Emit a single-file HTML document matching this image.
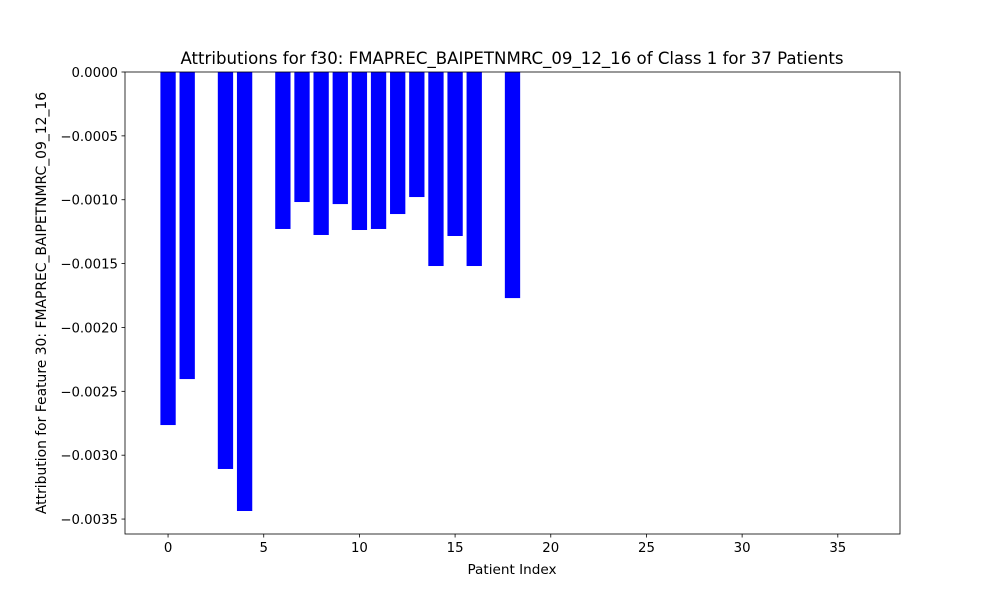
<!DOCTYPE html>
<html><head><meta charset="utf-8"><style>
body{margin:0;background:#fff;}
svg text{font-family:"DejaVu Sans","Liberation Sans",sans-serif;fill:#000;}
</style></head><body>
<svg id="chart" width="1000" height="600">
<text x="512" y="64" text-anchor="middle" font-size="16.6">Attributions for f30: FMAPREC_BAIPETNMRC_09_12_16 of Class 1 for 37 Patients</text>
<text x="512" y="574" text-anchor="middle" font-size="13.6">Patient Index</text>
<text transform="translate(46,303) rotate(-90)" text-anchor="middle" font-size="13.9">Attribution for Feature 30: FMAPREC_BAIPETNMRC_09_12_16</text>
<g id="bars"></g><g id="axes"></g>
</svg>
<script>
const values=[-0.002764,-0.002404,0,-0.003108,-0.003437,0,-0.001229,-0.001018,-0.001276,-0.001034,-0.001237,-0.001229,-0.001112,-0.000979,-0.001519,-0.001284,-0.001519,0,-0.00177,0,0,0,0,0,0,0,0,0,0,0,0,0,0,0,0,0,0];
const xTicks=[0,5,10,15,20,25,30,35];
const yTicks=[0,-0.0005,-0.001,-0.0015,-0.002,-0.0025,-0.003,-0.0035];
const L=125,R=900,T=72,B=534;
const xmin=-2.25,xmax=38.25,ymin=-0.003617,ymax=0;
const sx=v=>L+(v-xmin)/(xmax-xmin)*(R-L);
const sy=v=>T+(ymax-v)/(ymax-ymin)*(B-T);
const NS="http://www.w3.org/2000/svg";
const bars=document.getElementById('bars'),axes=document.getElementById('axes');
function mk(t,a,p){const e=document.createElementNS(NS,t);for(const k in a)e.setAttribute(k,a[k]);p.appendChild(e);return e;}
values.forEach((v,i)=>{
 if(v===0)return;
 const r=mk('rect',{x:sx(i-0.4),y:sy(0),width:sx(i+0.4)-sx(i-0.4),height:sy(v)-sy(0),fill:'#0000ff'},bars);
 
 
});
const fr=mk('rect',{x:L,y:T,width:R-L,height:B-T,fill:'none',stroke:'#000','stroke-width':0.8},axes);


xTicks.forEach(t=>{
 const x=sx(t);
 mk('line',{x1:x,x2:x,y1:B,y2:B+3.5,stroke:'#000','stroke-width':0.8},axes);
 const tx=mk('text',{x:x,y:B+18,'text-anchor':'middle','font-size':13.3},axes);
 tx.textContent=t;
 
 
});
yTicks.forEach(t=>{
 const y=sy(t);
 mk('line',{x1:L-3.5,x2:L,y1:y,y2:y,stroke:'#000','stroke-width':0.8},axes);
 const tx=mk('text',{x:L-7,y:y+5,'text-anchor':'end','font-size':13.3},axes);
 tx.textContent=(t===0?'0.0000':t.toFixed(4)).replace('-','\u2212');
 
 
});
</script>
</body></html>
